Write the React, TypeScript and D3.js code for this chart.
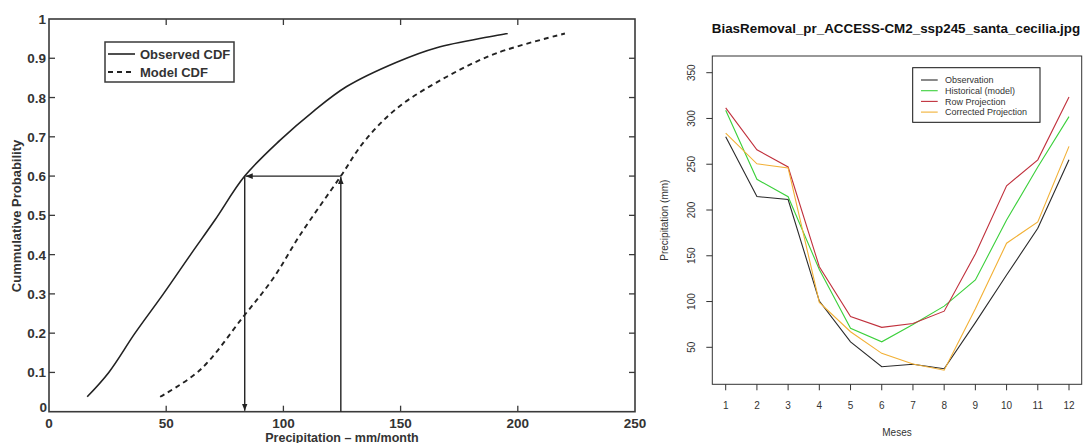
import React from "react";
import * as d3 from "d3";

// ---------- Left panel: CDF mapping ----------
const observedPrecip = [16.3, 25.5, 36.7, 48.8, 60.4, 70.8, 83.5, 98.5, 112.8, 127, 148.3, 165.4, 195.7];
const observedProb = [0.038, 0.1, 0.2, 0.3, 0.4, 0.488, 0.6, 0.691, 0.765, 0.828, 0.89, 0.927, 0.963];
const modelPrecip = [47.4, 64.4, 82.9, 95.7, 107.1, 124.5, 134.1, 148.3, 169.7, 191, 220.1];
const modelProb = [0.038, 0.106, 0.242, 0.34, 0.45, 0.6, 0.685, 0.772, 0.853, 0.913, 0.963];
const mapProb = 0.6;
const mapObserved = 83.5;
const mapModel = 124.5;
const cdfXTicks = [0, 50, 100, 150, 200, 250];
const cdfYTicks = [0, 0.1, 0.2, 0.3, 0.4, 0.5, 0.6, 0.7, 0.8, 0.9, 1];
const cdfYTickLabels = ["0", "0.1", "0.2", "0.3", "0.4", "0.5", "0.6", "0.7", "0.8", "0.9", "1"];

// ---------- Right panel: bias removal ----------
const months = [1, 2, 3, 4, 5, 6, 7, 8, 9, 10, 11, 12];
const observation = [280, 214.7, 211.5, 100.5, 56, 28.8, 31.5, 26.6, 77, 129, 180, 255];
const historical = [309, 233.5, 214.5, 135, 70.7, 56, 75, 95, 123.6, 189, 247, 302];
const rowProjection = [311.5, 265.8, 247, 138, 83.5, 71.8, 76, 89.5, 152, 226.5, 254.8, 323.5];
const correctedProjection = [284, 250.5, 246, 99, 67, 43.4, 31.7, 25, 92, 163.7, 187, 269.5];
const biasYTicks = [50, 100, 150, 200, 250, 300, 350];
const seriesNames = ["Observation", "Historical (model)", "Row Projection", "Corrected Projection"];
const seriesColors = ["#2a2a2a", "#3bd03b", "#c0303c", "#f2b035"];

const HELV = "'Liberation Sans', Arial, Helvetica, sans-serif";

function LeftPanel() {
  const x = d3.scaleLinear().domain([0, 250]).range([49, 635]);
  const y = d3.scaleLinear().domain([0, 1]).range([411.7, 19]);
  const line = d3
    .line<[number, number]>()
    .x((d) => x(d[0]))
    .y((d) => y(d[1]))
    .curve(d3.curveCatmullRom.alpha(0.5));
  const obsPts = observedPrecip.map((v, i) => [v, observedProb[i]] as [number, number]);
  const modPts = modelPrecip.map((v, i) => [v, modelProb[i]] as [number, number]);
  const axisColor = "#3a3a3a";
  const x0 = x(0), x1 = x(250), y0 = y(0), y1 = y(1);
  const tl = 6;
  const textStyle = { fontFamily: HELV, fontWeight: 700, fill: "#333" } as const;

  const ax = x(mapObserved), bx = x(mapModel), py = y(mapProb);
  return (
    <g>
      <defs>
        <marker id="arrowHead" viewBox="0 0 10 10" refX="10" refY="5" markerWidth="7" markerHeight="7" orient="auto" markerUnits="userSpaceOnUse">
          <path d="M0,1 L10,5 L0,9 Z" fill="#222" />
        </marker>
      </defs>
      <rect x={x0} y={y1} width={x1 - x0} height={y0 - y1} fill="none" stroke={axisColor} strokeWidth={1.6} />
      {cdfXTicks.slice(1, -1).map((t) => (
        <g key={"xt" + t}>
          <line x1={x(t)} x2={x(t)} y1={y0} y2={y0 - tl} stroke={axisColor} strokeWidth={1.3} />
          <line x1={x(t)} x2={x(t)} y1={y1} y2={y1 + tl} stroke={axisColor} strokeWidth={1.3} />
        </g>
      ))}
      {cdfYTicks.slice(1, -1).map((t) => (
        <g key={"yt" + t}>
          <line x1={x0} x2={x0 + tl} y1={y(t)} y2={y(t)} stroke={axisColor} strokeWidth={1.3} />
          <line x1={x1} x2={x1 - tl} y1={y(t)} y2={y(t)} stroke={axisColor} strokeWidth={1.3} />
        </g>
      ))}
      {cdfXTicks.map((t) => (
        <text key={"xl" + t} x={x(t)} y={428} textAnchor="middle" fontSize={13.5} style={textStyle}>
          {t}
        </text>
      ))}
      {cdfYTicks.map((t, i) => (
        <text key={"yl" + t} x={i === 0 ? 47 : 46} y={y(t) + (i === 0 ? 0 : 5)} textAnchor="end" fontSize={13.5} style={textStyle}>
          {cdfYTickLabels[i]}
        </text>
      ))}
      <text x={(x0 + x1) / 2} y={441.5} textAnchor="middle" fontSize={12.5} style={textStyle}>
        Precipitation – mm/month
      </text>
      <text transform={`translate(21,${216}) rotate(-90)`} textAnchor="middle" fontSize={13} style={textStyle}>
        Cummulative Probability
      </text>

      <path d={line(obsPts) || ""} fill="none" stroke="#222" strokeWidth={1.6} />
      <path d={line(modPts) || ""} fill="none" stroke="#222" strokeWidth={1.9} strokeDasharray="5,4" />

      <line x1={bx} y1={y0} x2={bx} y2={py + 1} stroke="#222" strokeWidth={1.4} markerEnd="url(#arrowHead)" />
      <line x1={bx} y1={py} x2={ax + 1} y2={py} stroke="#222" strokeWidth={1.4} markerEnd="url(#arrowHead)" />
      <line x1={ax} y1={py} x2={ax} y2={y0 - 1} stroke="#222" strokeWidth={1.4} markerEnd="url(#arrowHead)" />

      <rect x={105} y={42} width={129} height={40} fill="#fff" stroke={axisColor} strokeWidth={1.5} />
      <line x1={108} x2={135} y1={54} y2={54} stroke="#222" strokeWidth={1.6} />
      <text x={140} y={59} fontSize={13} style={textStyle}>Observed CDF</text>
      <line x1={108} x2={135} y1={72} y2={72} stroke="#222" strokeWidth={1.9} strokeDasharray="5,4" />
      <text x={140} y={77} fontSize={13} style={textStyle}>Model CDF</text>
    </g>
  );
}

function RightPanel() {
  const x = d3.scaleLinear().domain([1, 12]).range([725.7, 1069]);
  const y = d3.scaleLinear().domain([50, 350]).range([347.3, 72.7]);
  const left = 712.3, right = 1081.7, top = 56, bottom = 384.3;
  const series = [observation, historical, rowProjection, correctedProjection];
  const line = d3
    .line<number>()
    .x((_, i) => x(months[i]))
    .y((d) => y(d));
  const tStyle = { fontFamily: HELV, fill: "#333" } as const;
  return (
    <g>
      <text x={(left + right) / 2 - 1} y={33} textAnchor="middle" fontSize={13.4} style={{ fontFamily: HELV, fontWeight: 700, fill: "#111" }}>
        BiasRemoval_pr_ACCESS-CM2_ssp245_santa_cecilia.jpg
      </text>
      {series.map((s, i) => (
        <path key={i} d={line(s) || ""} fill="none" stroke={seriesColors[i]} strokeWidth={1.1} />
      ))}
      <rect x={left} y={top} width={right - left} height={bottom - top} fill="none" stroke="#333" strokeWidth={1} />
      {months.map((m) => (
        <g key={"m" + m}>
          <line x1={x(m)} x2={x(m)} y1={bottom} y2={bottom + 6} stroke="#333" strokeWidth={1} />
          <text x={x(m)} y={409} textAnchor="middle" fontSize={10} style={tStyle}>{m}</text>
        </g>
      ))}
      {biasYTicks.map((t) => (
        <g key={"y" + t}>
          <line x1={left} x2={left - 6} y1={y(t)} y2={y(t)} stroke="#333" strokeWidth={1} />
          <text transform={`translate(695,${y(t)}) rotate(-90)`} textAnchor="middle" fontSize={10} style={tStyle}>{t}</text>
        </g>
      ))}
      <text x={(left + right) / 2} y={436} textAnchor="middle" fontSize={10} style={tStyle}>Meses</text>
      <text transform={`translate(668,${(top + bottom) / 2}) rotate(-90)`} textAnchor="middle" fontSize={10} style={tStyle}>
        Precipitation (mm)
      </text>
      <rect x={912.7} y={67.7} width={127.3} height={54.6} fill="#fff" stroke="#111" strokeWidth={1} />
      {seriesNames.map((n, i) => (
        <g key={n}>
          <line x1={921} x2={937.7} y1={80 + i * 10.7} y2={80 + i * 10.7} stroke={seriesColors[i]} strokeWidth={1.1} />
          <text x={945} y={83.2 + i * 10.7} fontSize={9} style={tStyle}>{n}</text>
        </g>
      ))}
    </g>
  );
}

export default function App() {
  return (
    <svg width={1084} height={443} style={{ position: "fixed", left: 0, top: 0, background: "#fff" }}>
      <rect x={0} y={0} width={1084} height={443} fill="#fff" />
      <LeftPanel />
      <RightPanel />
    </svg>
  );
}
